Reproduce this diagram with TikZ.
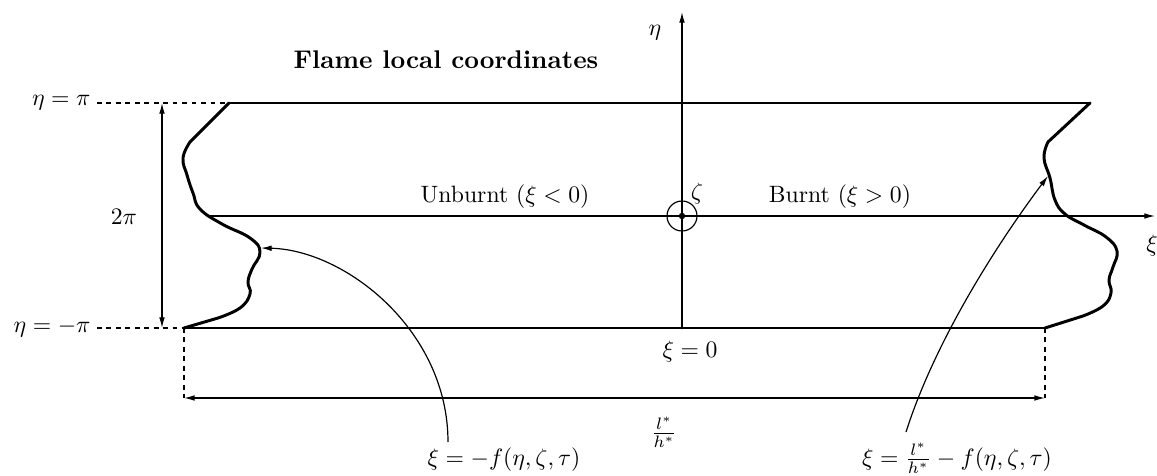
\documentclass[tikz,border=0pt]{standalone}
\usetikzlibrary{arrows.meta}
\begin{document}
\begin{tikzpicture}[x=0.4225pt,y=-0.4225pt,
  thinline/.style={line width=0.5pt},
  thickline/.style={line width=1.25pt, line join=round, line cap=round},
  dimline/.style={line width=0.5pt, dash pattern=on 2pt off 2pt},
  onetip/.style={-{Latex[length=4.5pt,width=2.4pt]}},
  twotip/.style={{Latex[length=4.5pt,width=2.4pt]}-{Latex[length=4.5pt,width=2.4pt]}},
  lbl/.style={inner sep=0pt}]
\useasboundingbox (0,0) rectangle (1157,476);
% corners and reference points
\coordinate (TL) at (229,103);
\coordinate (TR) at (1090,103);
\coordinate (BL) at (184,328);
\coordinate (BR) at (1045,328);
\coordinate (TC) at (682,103);
\coordinate (BC) at (682,328);
\coordinate (O) at (682,216);
\coordinate (etaTop) at (682,12);
\coordinate (axL) at (208,216);
\coordinate (xiEnd) at (1155,216);
\coordinate (dashTL) at (97,103);
\coordinate (dashBL) at (97,328);
\coordinate (twoTop) at (162,103);
\coordinate (twoBot) at (162,328);
\coordinate (dimL) at (184,398);
\coordinate (dimR) at (1045,398);
\coordinate (tipL) at (261,248);
\coordinate (tipR) at (1048,176);
% flame sheet
\draw[thickline] (TL) -- (TR);
\draw[thickline] (BL) -- (BR);
\draw[thickline] (TC) -- (BC);
% left flame front
\draw[thickline] (TL) -- plot[smooth, tension=0.75] coordinates {(190,142) (183,158) (187,175) (193,193) (200,209) (222,224) (250,238) (260,252) (252,269) (248,282) (250,294) (240,308) (218,318)} -- (BL);
% right flame front
\draw[thickline] (TR) -- plot[smooth, tension=0.75] coordinates {(1048,142) (1044,158) (1050,178) (1055,200) (1065,214) (1084,225) (1106,237) (1117,251) (1113,267) (1109,280) (1111,293) (1103,306) (1083,316)} -- (BR);
% axes
\draw[thinline, onetip] (axL) -- (xiEnd);
\draw[thinline, onetip] (TC) -- (etaTop);
\draw[thinline] (O) circle[radius=15];
\fill (O) circle[radius=3.2];
% dashed guides
\draw[dimline] (dashTL) -- (TL);
\draw[dimline] (dashBL) -- (BL);
\draw[dimline] (BL) -- (dimL);
\draw[dimline] (BR) -- (dimR);
% dimension arrows
\draw[thinline, twotip] (twoTop) -- (twoBot);
\draw[thinline, twotip] (dimL) -- (dimR);
% labels
\node[lbl] (title) at (446,60) {\fontsize{10.8}{13}\selectfont\bfseries Flame local coordinates};
\node[lbl, anchor=east] (etapi) at (91,103) {$\eta=\pi$};
\node[lbl, anchor=east] (etampi) at (91,328) {$\eta=-\pi$};
\node[lbl] (twopi) at (124,217) {$2\pi$};
\node[lbl] (eta) at (655,33) {$\eta$};
\node[lbl] (xi) at (1152,246) {$\xi$};
\node[lbl] (zeta) at (697,194) {$\zeta$};
\node[lbl, anchor=base] (unb) at (505,202) {Unburnt ($\xi<0$)};
\node[lbl, anchor=base] (bur) at (840,202) {Burnt ($\xi>0$)};
\node[lbl] (xi0) at (690,352) {$\xi=0$};
\node[lbl] (lh) at (664,432) {$\frac{l^*}{h^*}$};
\node[lbl, anchor=base] (fl) at (504,465) {$\xi=-f(\eta,\zeta,\tau)$};
\node[lbl, anchor=base] (fr) at (957,465) {$\xi=\frac{l^*}{h^*}-f(\eta,\zeta,\tau)$};
% pointers
\coordinate (startL) at (448,442);
\coordinate (startR) at (906,432);
\draw[thinline, onetip] (startL) .. controls (448,330) and (345,250) .. (tipL);
\draw[thinline, onetip] (startR) .. controls (936,338) and (1000,240) .. (tipR);
\end{tikzpicture}
\end{document}
